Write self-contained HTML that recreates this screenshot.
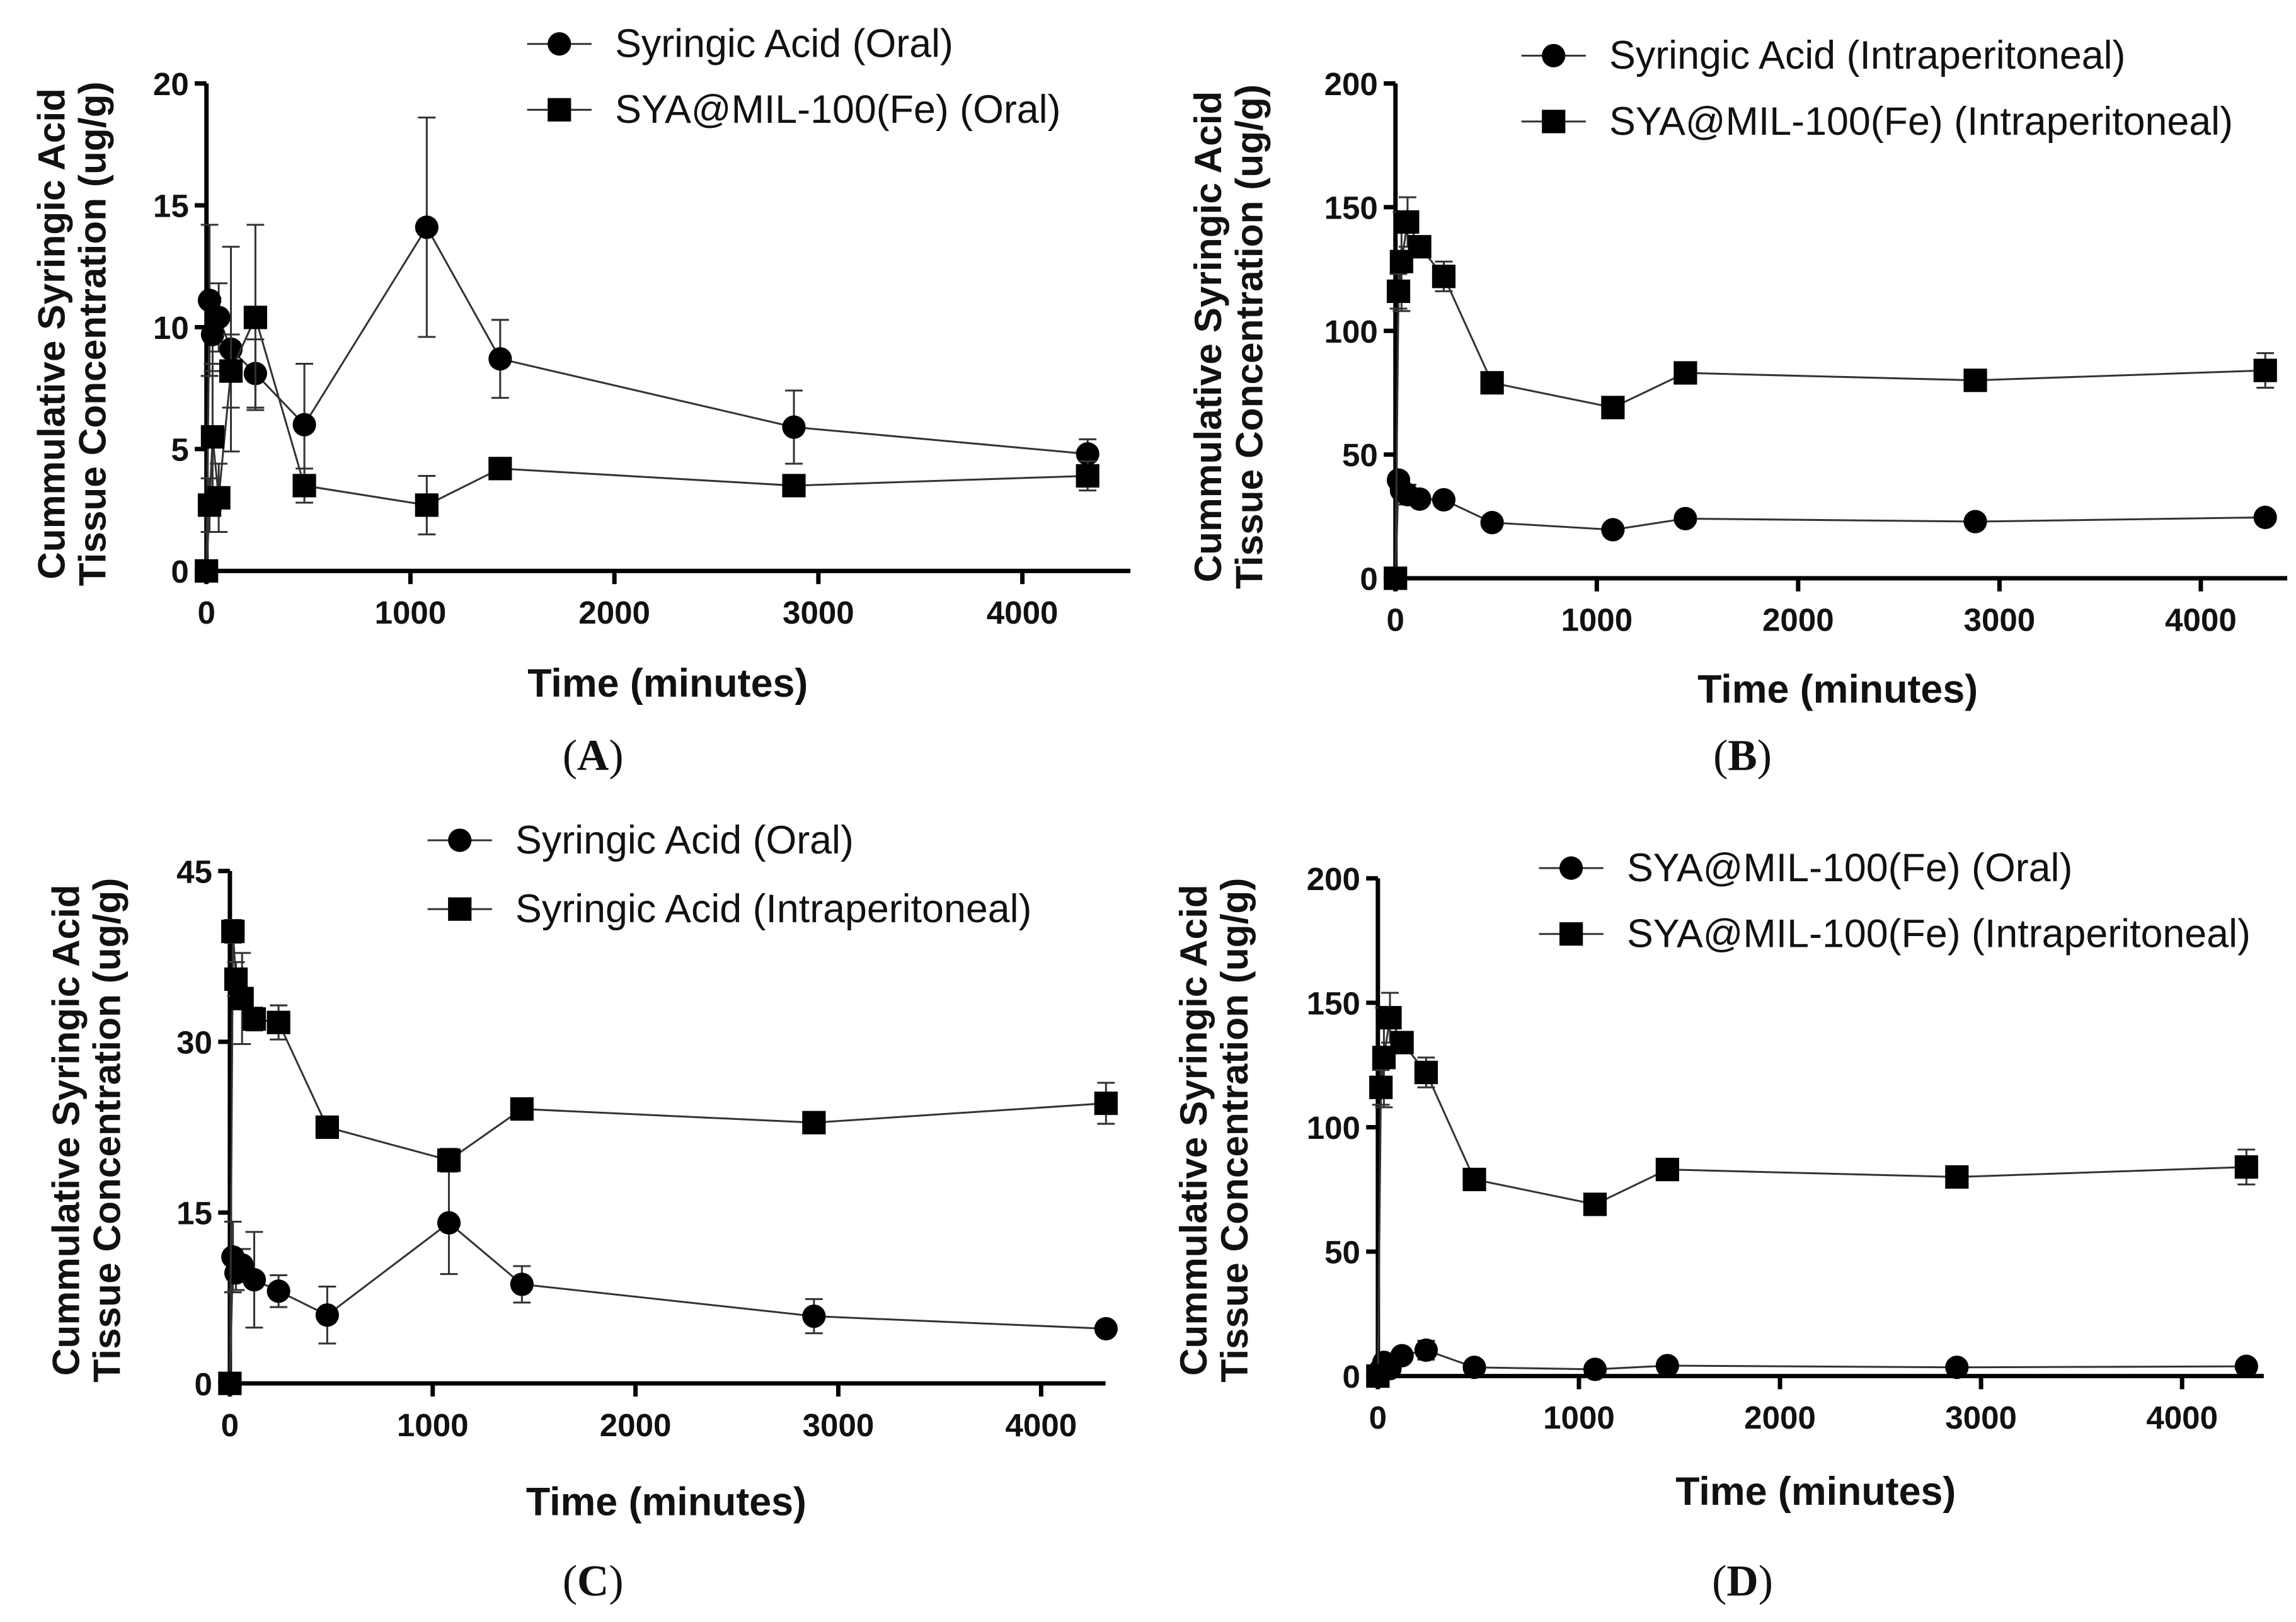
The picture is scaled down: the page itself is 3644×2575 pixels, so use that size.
<!DOCTYPE html>
<html><head><meta charset="utf-8">
<style>
html,body{margin:0;padding:0;background:#fff;}
svg{display:block;}
text{font-family:"Liberation Sans",Arial,sans-serif;fill:#111;}
.tick{font-weight:bold;font-size:22px;}
.ytitle{font-weight:bold;font-size:26px;}
.xtitle{font-weight:bold;font-size:27px;}
.leg{font-size:27px;}
.plabel{font-family:"Liberation Serif",serif;font-size:30px;}
</style></head>
<body>
<svg id="fig" width="3644" height="2575" viewBox="0 0 1568 1108" xmlns="http://www.w3.org/2000/svg"></svg>
<script>
const times = [0, 15, 30, 60, 120, 240, 480, 1080, 1440, 2880, 4320];
const saOral = [0, 11.1, 9.7, 10.4, 9.1, 8.1, 6.0, 14.1, 8.7, 5.9, 4.8];
const saOralErr = [0, 3.1, 1.5, 1.4, 4.2, 1.4, 2.5, 4.5, 1.6, 1.5, 0.6];
const mofOral = [0, 2.7, 5.5, 3.0, 8.2, 10.4, 3.5, 2.7, 4.2, 3.5, 3.9];
const mofOralErr = [0, 1.1, 3.0, 1.4, 1.5, 3.8, 0.7, 1.2, 0.3, 0.2, 0.6];
const saIP = [0, 39.7, 35.5, 33.8, 32.0, 31.7, 22.5, 19.6, 24.1, 22.9, 24.6];
const saIPErr = [0, 1.0, 1.5, 4.0, 1.0, 1.5, 0.5, 1.0, 0.5, 0.5, 1.8];
const mofIP = [0, 116, 128, 144, 134, 122, 79, 69, 83, 80, 84];
const mofIPErr = [0, 7, 20, 10, 3, 6, 2, 2, 2, 2, 7];
const xTicks = [0, 1000, 2000, 3000, 4000];
const yTicksA = [0, 5, 10, 15, 20];
const yTicksB = [0, 50, 100, 150, 200];
const yTicksC = [0, 15, 30, 45];

const NS = "http://www.w3.org/2000/svg";
const svg = document.getElementById('fig');
function mk(tag, attrs, parent, txt){
  const e = document.createElementNS(NS, tag);
  for (const k in attrs) e.setAttribute(k, attrs[k]);
  if (txt !== undefined) e.textContent = txt;
  parent.appendChild(e);
  return e;
}

function panel(cfg){
  const g = mk('g', {}, svg);
  
  
  const xs = v => cfg.x0 + (v / 1000) * cfg.xk;
  const ys = v => cfg.y0 - (v / cfg.ymax) * (cfg.y0 - cfg.ytop);
  const ax = mk('g', {stroke:'#000','stroke-width':3,fill:'none'}, g);
  
  
  mk('line', {x1:cfg.x0, y1:cfg.ytop, x2:cfg.x0, y2:cfg.y0+1.5}, ax);
  mk('line', {x1:cfg.x0-1.5, y1:cfg.y0, x2:cfg.xend, y2:cfg.y0}, ax);
  cfg.yticks.forEach(t => {
    mk('line', {x1:cfg.x0-8, y1:ys(t), x2:cfg.x0, y2:ys(t)}, ax);
    const tl = mk('text', {x:cfg.x0-12, y:ys(t)+8, 'text-anchor':'end', class:'tick'}, g, t);
    
    
  });
  xTicks.forEach(t => {
    mk('line', {x1:xs(t), y1:cfg.y0, x2:xs(t), y2:cfg.y0+9}, ax);
    const tl = mk('text', {x:xs(t), y:cfg.y0+36, 'text-anchor':'middle', class:'tick'}, g, t);
    
    
  });
  const yt = mk('text', {transform:`translate(${cfg.ytx},${cfg.yty}) rotate(-90)`, 'text-anchor':'middle', class:'ytitle'}, g);
  
  
  mk('tspan', {x:0, y:0}, yt, 'Cummulative Syringic Acid');
  mk('tspan', {x:0, y:28}, yt, 'Tissue Concentration (ug/g)');
  const xt = mk('text', {x:cfg.xtx, y:cfg.xty, 'text-anchor':'middle', class:'xtitle'}, g, 'Time (minutes)');
  
  
  const pl = mk('text', {x:cfg.plx, y:cfg.ply, 'text-anchor':'middle', class:'plabel'}, g);
  
  
  mk('tspan', {}, pl, '(');
  mk('tspan', {'font-weight':'bold'}, pl, cfg.id);
  mk('tspan', {}, pl, ')');
  cfg.series.forEach((s, si) => {
    const sg = mk('g', {}, g);
    
    
    const pts = times.map((t, i) => xs(t) + ',' + ys(s.vals[i])).join(' ');
    mk('polyline', {points:pts, fill:'none', stroke:'#333', 'stroke-width':1.3}, sg);
    times.forEach((t, i) => {
      const e = s.err[i];
      if (e > 0) {
        const x = xs(t), y1 = ys(s.vals[i] + e), y2 = ys(Math.max(0, s.vals[i] - e));
        const eb = mk('path', {d:`M${x},${y1}V${y2}M${x-6},${y1}H${x+6}M${x-6},${y2}H${x+6}`, stroke:'#333', 'stroke-width':1.3, fill:'none'}, sg);
        
        
      }
    });
    times.forEach((t, i) => {
      const x = xs(t), y = ys(s.vals[i]);
      let m;
      if (s.shape === 'circle') m = mk('circle', {cx:x, cy:y, r:8, fill:'#000'}, sg);
      else m = mk('rect', {x:x-8, y:y-8, width:16, height:16, fill:'#000'}, sg);
      
      
    });
    const lg = mk('g', {}, g);
    
    
    const ly = cfg.legY[si];
    mk('line', {x1:cfg.legX-22, y1:ly, x2:cfg.legX+22, y2:ly, stroke:'#333', 'stroke-width':1.3}, lg);
    if (s.shape === 'circle') mk('circle', {cx:cfg.legX, cy:ly, r:8, fill:'#000'}, lg);
    else mk('rect', {x:cfg.legX-8, y:ly-8, width:16, height:16, fill:'#000'}, lg);
    mk('text', {x:cfg.legX+38, y:ly+9, class:'leg'}, lg, s.label);
  });
}

panel({id:'A', x0:141, xk:139.3, xend:772, y0:390, ytop:57, ymax:20, yticks:yTicksA,
  ytx:44, yty:228, xtx:456, xty:476, plx:405, ply:526, legX:382, legY:[30,75],
  series:[{key:'sa-oral', vals:saOral, err:saOralErr, shape:'circle', label:'Syringic Acid (Oral)'},
          {key:'mof-oral', vals:mofOral, err:mofOralErr, shape:'square', label:'SYA@MIL-100(Fe) (Oral)'}]});
panel({id:'B', x0:953, xk:137.5, xend:1562, y0:395, ytop:57, ymax:200, yticks:yTicksB,
  ytx:834, yty:230, xtx:1255, xty:480, plx:1190, ply:526, legX:1061, legY:[38,83],
  series:[{key:'sa-ip', vals:saIP, err:saIPErr, shape:'circle', label:'Syringic Acid (Intraperitoneal)'},
          {key:'mof-ip', vals:mofIP, err:mofIPErr, shape:'square', label:'SYA@MIL-100(Fe) (Intraperitoneal)'}]});
panel({id:'C', x0:157, xk:138.5, xend:755, y0:945, ytop:595, ymax:45, yticks:yTicksC,
  ytx:54, yty:772, xtx:455, xty:1035, plx:405, ply:1090, legX:314, legY:[574,621],
  series:[{key:'sa-oral', vals:saOral, err:saOralErr, shape:'circle', label:'Syringic Acid (Oral)'},
          {key:'sa-ip', vals:saIP, err:saIPErr, shape:'square', label:'Syringic Acid (Intraperitoneal)'}]});
panel({id:'D', x0:941, xk:137.3, xend:1546, y0:940, ytop:600, ymax:200, yticks:yTicksB,
  ytx:824, yty:772, xtx:1240, xty:1028, plx:1190, ply:1090, legX:1073, legY:[593,638],
  series:[{key:'mof-oral', vals:mofOral, err:mofOralErr, shape:'circle', label:'SYA@MIL-100(Fe) (Oral)'},
          {key:'mof-ip', vals:mofIP, err:mofIPErr, shape:'square', label:'SYA@MIL-100(Fe) (Intraperitoneal)'}]});
</script>
</body></html>
